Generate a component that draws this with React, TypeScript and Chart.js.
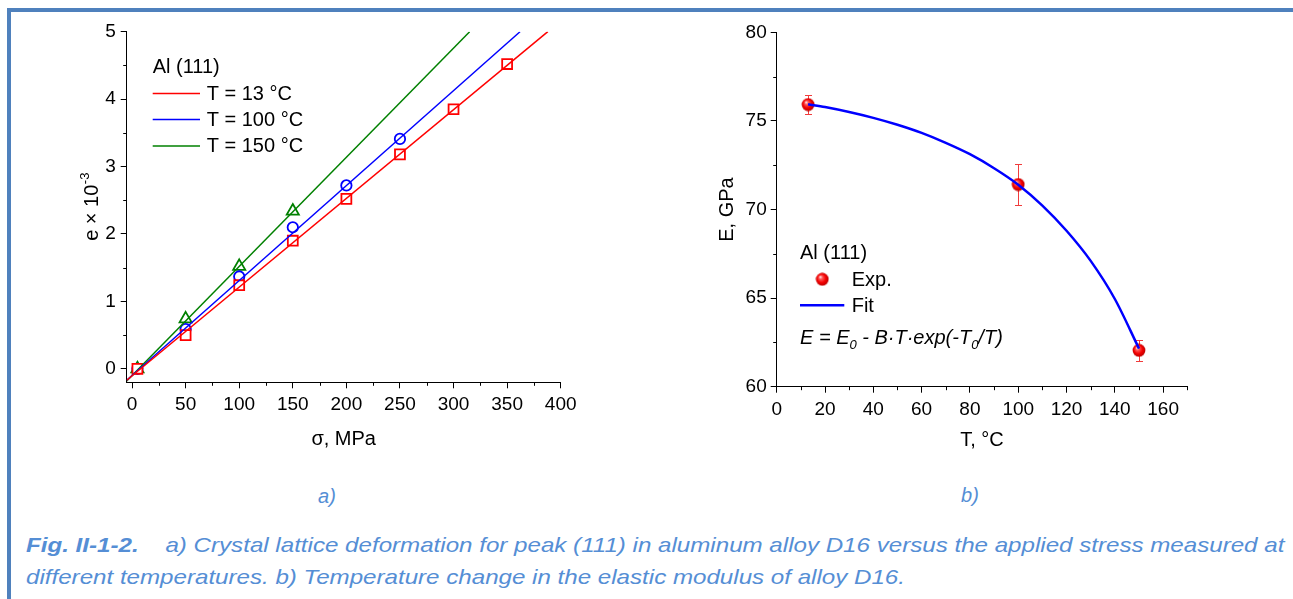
import React, { useEffect, useRef } from "react";
import { Chart, registerables } from "chart.js";
Chart.register(...registerables);

// ---------- Panel a) data ----------
const STRESS_13 = [5, 50, 100, 150, 200, 250, 300, 350];
const STRAIN_13 = [0, 0.5, 1.24, 1.9, 2.52, 3.18, 3.85, 4.52];
const STRESS_100 = [5, 50, 100, 150, 200, 250];
const STRAIN_100 = [0, 0.59, 1.37, 2.1, 2.72, 3.41];
const STRESS_150 = [5, 50, 100, 150];
const STRAIN_150 = [0, 0.74, 1.52, 2.34];
const FIT_STRESS_13 = [-5, 388];
const FIT_STRAIN_13 = [-0.17, 5];
const FIT_STRESS_100 = [-5, 362];
const FIT_STRAIN_100 = [-0.17, 5];
const FIT_STRESS_150 = [-5, 315];
const FIT_STRAIN_150 = [-0.18, 5];
const LEGEND_A = ["T = 13 °C", "T = 100 °C", "T = 150 °C"];
const A_X_TICKS = [0, 50, 100, 150, 200, 250, 300, 350, 400];
const A_X_MINOR = [25, 75, 125, 175, 225, 275, 325, 375];
const A_Y_TICKS = [0, 1, 2, 3, 4, 5];
const A_Y_MINOR = [0.5, 1.5, 2.5, 3.5, 4.5];

// ---------- Panel b) data ----------
const TEMP = [13, 100, 150];
const MODULUS = [75.92, 71.41, 62.05];
const MODULUS_ERR = [0.55, 1.17, 0.6];
const FIT_TEMP = [13, 20, 30, 40, 50, 60, 70, 80, 90, 100, 110, 120, 130, 140, 150];
const FIT_MODULUS = [75.94, 75.78, 75.5, 75.17, 74.78, 74.32, 73.76, 73.12, 72.33, 71.4, 70.22, 68.8, 67.1, 64.95, 62.15];
const B_X_TICKS = [0, 20, 40, 60, 80, 100, 120, 140, 160];
const B_X_MINOR = [10, 30, 50, 70, 90, 110, 130, 150, 170];
const B_Y_TICKS = [60, 65, 70, 75, 80];
const B_Y_MINOR = [62.5, 67.5, 72.5, 77.5];

const FONT = "'Liberation Sans', Arial, Helvetica, sans-serif";
const RED = "#FF0000";
const BLUE = "#0000FF";
const GREEN = "#008000";
const CAPTION = "#558ED5";

const pts = (xs: number[], ys: number[]) => xs.map((x, i) => ({ x, y: ys[i] }));

function makeSphere(): HTMLCanvasElement {
  const c = document.createElement("canvas");
  c.width = 14;
  c.height = 14;
  const g = c.getContext("2d")!;
  const grad = g.createRadialGradient(5, 4.6, 0.3, 7, 7, 7);
  grad.addColorStop(0, "#FFF0F0");
  grad.addColorStop(0.22, "#FF5A5A");
  grad.addColorStop(0.6, "#F50000");
  grad.addColorStop(1, "#B00000");
  g.fillStyle = grad;
  g.beginPath();
  g.arc(7, 7, 6.4, 0, Math.PI * 2);
  g.fill();
  return c;
}

const minorTicksPlugin = {
  id: "minorTicks",
  afterDraw(chart: any, _args: any, opts: any) {
    const { ctx, chartArea } = chart;
    const xs = chart.scales.x;
    const ys = chart.scales.y;
    const len = opts.length || 3.5;
    ctx.save();
    ctx.strokeStyle = "#000";
    ctx.lineWidth = 1;
    ctx.beginPath();
    (opts.x || []).forEach((v: number) => {
      const p = Math.round(xs.getPixelForValue(v)) + 0.5;
      ctx.moveTo(p, chartArea.bottom);
      ctx.lineTo(p, chartArea.bottom + len);
    });
    (opts.y || []).forEach((v: number) => {
      const p = Math.round(ys.getPixelForValue(v)) + 0.5;
      ctx.moveTo(chartArea.left - len, p);
      ctx.lineTo(chartArea.left, p);
    });
    ctx.stroke();
    ctx.restore();
  },
};

const legendAPlugin = {
  id: "legendA",
  afterDraw(chart: any) {
    const ctx = chart.ctx;
    ctx.save();
    ctx.font = `20px ${FONT}`;
    ctx.fillStyle = "#000";
    ctx.textBaseline = "middle";
    ctx.textAlign = "left";
    ctx.fillText("Al (111)", 152.7, 67);
    const rows = [93.5, 119.5, 146];
    const ds = chart.data.datasets;
    LEGEND_A.forEach((label, i) => {
      const y = rows[i];
      ctx.strokeStyle = ds[i].borderColor;
      ctx.lineWidth = 1.5;
      ctx.beginPath();
      ctx.moveTo(152.7, y);
      ctx.lineTo(200, y);
      ctx.stroke();
      ctx.fillText(label, 206.7, y + 0.5);
    });
    ctx.restore();
  },
};

const yTitleAPlugin = {
  id: "yTitleA",
  afterDraw(chart: any) {
    const ctx = chart.ctx;
    ctx.save();
    ctx.translate(97.5, 207);
    ctx.rotate(-Math.PI / 2);
    ctx.fillStyle = "#000";
    ctx.textBaseline = "alphabetic";
    ctx.textAlign = "left";
    const main = "e \u00D7 10";
    const sup = "-3";
    ctx.font = `20px ${FONT}`;
    const w1 = ctx.measureText(main).width;
    ctx.font = `13px ${FONT}`;
    const w2 = ctx.measureText(sup).width;
    const x0 = -(w1 + w2) / 2;
    ctx.font = `20px ${FONT}`;
    ctx.fillText(main, x0, 0);
    ctx.font = `13px ${FONT}`;
    ctx.fillText(sup, x0 + w1 + 0.5, -9);
    ctx.restore();
  },
};

const errorBarPlugin = {
  id: "errorBars",
  beforeDatasetsDraw(chart: any) {
    const { ctx } = chart;
    const xs = chart.scales.x;
    const ys = chart.scales.y;
    ctx.save();
    ctx.strokeStyle = "#F03C3C";
    ctx.lineWidth = 1;
    ctx.beginPath();
    TEMP.forEach((t, i) => {
      const px = Math.round(xs.getPixelForValue(t)) + 0.5;
      const top = Math.round(ys.getPixelForValue(MODULUS[i] + MODULUS_ERR[i])) + 0.5;
      const bot = Math.round(ys.getPixelForValue(MODULUS[i] - MODULUS_ERR[i])) + 0.5;
      ctx.moveTo(px, top);
      ctx.lineTo(px, bot);
      ctx.moveTo(px - 3.5, top);
      ctx.lineTo(px + 3.5, top);
      ctx.moveTo(px - 3.5, bot);
      ctx.lineTo(px + 3.5, bot);
    });
    ctx.stroke();
    ctx.restore();
  },
};

function makeLegendBPlugin(sphere: HTMLCanvasElement) {
  return {
    id: "legendB",
    afterDraw(chart: any) {
      const ctx = chart.ctx;
      ctx.save();
      ctx.fillStyle = "#000";
      ctx.textBaseline = "middle";
      ctx.textAlign = "left";
      ctx.font = `20px ${FONT}`;
      ctx.fillText("Al (111)", 150, 253.5);
      const ds = chart.data.datasets;
      ctx.drawImage(sphere, 172.3 - sphere.width / 2, 279.3 - sphere.height / 2);
      ctx.fillText(ds[1].label, 201.7, 280);
      ctx.strokeStyle = ds[0].borderColor;
      ctx.lineWidth = 2.5;
      ctx.beginPath();
      ctx.moveTo(150, 305.3);
      ctx.lineTo(194.3, 305.3);
      ctx.stroke();
      ctx.fillText(ds[0].label, 201.7, 306);
      const parts: { t: string; sub?: boolean }[] = [
        { t: "E = E" },
        { t: "0", sub: true },
        { t: " - B\u00B7T\u00B7exp(-T" },
        { t: "0", sub: true },
        { t: "/T)" },
      ];
      let x = 150;
      const yb = 343.5;
      ctx.textBaseline = "alphabetic";
      parts.forEach((p) => {
        ctx.font = p.sub ? `italic 13px ${FONT}` : `italic 20px ${FONT}`;
        ctx.fillText(p.t, x, p.sub ? yb + 5 : yb);
        x += ctx.measureText(p.t).width;
      });
      ctx.restore();
    },
  };
}

function axisCommon(
  min: number,
  max: number,
  ticks: number[],
  fitSize: { w?: number; h?: number },
  title: any,
  pad: number
) {
  return {
    type: "linear" as const,
    min,
    max,
    afterFit: (s: any) => {
      if (fitSize.w !== undefined) s.width = fitSize.w;
      if (fitSize.h !== undefined) s.height = fitSize.h;
    },
    afterBuildTicks: (s: any) => {
      s.ticks = ticks.map((v) => ({ value: v }));
    },
    grid: {
      display: true,
      drawOnChartArea: false,
      drawTicks: true,
      tickLength: 6,
      tickColor: "#000",
      tickWidth: 1,
    },
    border: { display: true, color: "#000", width: 1 },
    ticks: {
      color: "#000",
      font: { family: FONT, size: 19 },
      padding: pad,
      maxRotation: 0,
      autoSkip: false,
    },
    title,
  };
}

export default function App() {
  const refA = useRef<HTMLCanvasElement | null>(null);
  const refB = useRef<HTMLCanvasElement | null>(null);

  useEffect(() => {
    const sphere = makeSphere();
    const chartA = new Chart(refA.current!, {
      type: "scatter",
      data: {
        datasets: [
          { label: "fit13", data: pts(FIT_STRESS_13, FIT_STRAIN_13), showLine: true, borderColor: RED, borderWidth: 1.5, pointRadius: 0 },
          { label: "fit100", data: pts(FIT_STRESS_100, FIT_STRAIN_100), showLine: true, borderColor: BLUE, borderWidth: 1.5, pointRadius: 0 },
          { label: "fit150", data: pts(FIT_STRESS_150, FIT_STRAIN_150), showLine: true, borderColor: GREEN, borderWidth: 1.5, pointRadius: 0 },
          { label: LEGEND_A[0], data: pts(STRESS_13, STRAIN_13), showLine: false, pointStyle: "rect", pointRadius: 7, borderColor: RED, backgroundColor: "#FFFFFF", borderWidth: 1.8 },
          { label: LEGEND_A[1], data: pts(STRESS_100, STRAIN_100), showLine: false, pointStyle: "circle", pointRadius: 5.2, borderColor: BLUE, backgroundColor: "#FFFFFF", borderWidth: 1.8 },
          { label: LEGEND_A[2], data: pts(STRESS_150, STRAIN_150), showLine: false, pointStyle: "triangle", pointRadius: 7, borderColor: GREEN, backgroundColor: "#FFFFFF", borderWidth: 1.8 },
        ],
      } as any,
      options: {
        responsive: false,
        animation: false,
        events: [],
        layout: { padding: { left: 0, top: 31.7, right: 89.3, bottom: 17.7 } },
        scales: {
          x: axisCommon(-5, 400, A_X_TICKS, { h: 70 }, {
            display: true, text: "\u03C3, MPa", color: "#000",
            font: { family: FONT, size: 20 }, padding: { top: 0, bottom: 1.3 },
          }, 5),
          y: axisCommon(-0.2, 5, A_Y_TICKS, { w: 126.7 }, { display: false }, 5),
        },
        plugins: {
          legend: { display: false },
          tooltip: { enabled: false },
          minorTicks: { x: A_X_MINOR, y: A_Y_MINOR, length: 3.5 },
        } as any,
      },
      plugins: [minorTicksPlugin, legendAPlugin, yTitleAPlugin],
    });

    const chartB = new Chart(refB.current!, {
      type: "scatter",
      data: {
        datasets: [
          { label: "Fit", data: pts(FIT_TEMP, FIT_MODULUS), showLine: true, borderColor: BLUE, borderWidth: 2.5, pointRadius: 0, cubicInterpolationMode: "monotone" },
          { label: "Exp.", data: pts(TEMP, MODULUS), showLine: false, pointStyle: sphere, pointRadius: 7, borderColor: RED, backgroundColor: RED },
        ],
      } as any,
      options: {
        responsive: false,
        animation: false,
        events: [],
        layout: { padding: { left: 0, top: 32.3, right: 105.7, bottom: 13.3 } },
        scales: {
          x: axisCommon(0, 170, B_X_TICKS, { h: 70 }, {
            display: true, text: "T, \u00B0C", color: "#000",
            font: { family: FONT, size: 20 }, padding: { top: 0, bottom: 4.7 },
          }, 6),
          y: axisCommon(60, 80, B_Y_TICKS, { w: 126.7 }, {
            display: true, text: "E, GPa", color: "#000",
            font: { family: FONT, size: 20 }, padding: { top: 65, bottom: 0 },
          }, 4),
        },
        plugins: {
          legend: { display: false },
          tooltip: { enabled: false },
          minorTicks: { x: B_X_MINOR, y: B_Y_MINOR, length: 3.5 },
        } as any,
      },
      plugins: [minorTicksPlugin, errorBarPlugin, makeLegendBPlugin(sphere)],
    });

    return () => {
      chartA.destroy();
      chartB.destroy();
    };
  }, []);

  return (
    <div
      style={{
        position: "absolute",
        left: 0,
        top: 0,
        width: 1293,
        height: 599,
        overflow: "hidden",
        background: "#FFFFFF",
        fontFamily: FONT,
      }}
    >
      <div style={{ position: "absolute", left: 7, top: 8, width: 1286, height: 4, background: "#4F81BD" }} />
      <div style={{ position: "absolute", left: 7, top: 8, width: 4, height: 591, background: "#4F81BD" }} />
      <canvas ref={refA} width={650} height={470} style={{ position: "absolute", left: 0, top: 0, width: 650, height: 470 }} />
      <canvas ref={refB} width={643} height={470} style={{ position: "absolute", left: 650, top: 0, width: 643, height: 470 }} />
      <div style={{ position: "absolute", left: 307, top: 486, width: 40, textAlign: "center", font: `italic 20px/20px ${FONT}`, color: CAPTION }}>a)</div>
      <div style={{ position: "absolute", left: 950, top: 485, width: 40, textAlign: "center", font: `italic 20px/20px ${FONT}`, color: CAPTION }}>b)</div>
      <div
        style={{
          position: "absolute",
          left: 26,
          top: 529,
          font: `italic 21px/32px ${FONT}`,
          color: CAPTION,
          whiteSpace: "pre",
          transform: "scaleX(1.149)",
          transformOrigin: "0 0",
        }}
      >
        <b>Fig. II-1-2.</b>
        {"    a) Crystal lattice deformation for peak (111) in aluminum alloy D16 versus the applied stress measured at\ndifferent temperatures. b) Temperature change in the elastic modulus of alloy D16."}
      </div>
    </div>
  );
}
